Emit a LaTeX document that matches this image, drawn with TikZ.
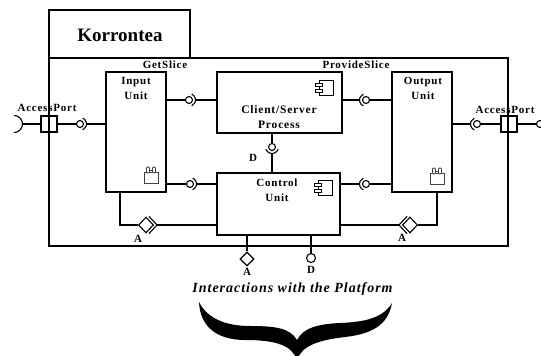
\documentclass[tikz,border=0pt]{standalone}
\usepackage{fontspec}
\setmainfont{Liberation Serif}
\newfontfamily\lsfont[LetterSpace=7]{Liberation Serif}
\usetikzlibrary{shapes.geometric}
\begin{document}
\begin{tikzpicture}[x=1pt,y=-1pt,
  box/.style={draw, line width=1.3pt, rectangle, inner sep=0pt},
  wire/.style={line width=1.1pt},
  lbl/.style={font=\lsfont\bfseries\fontsize{11}{15}\selectfont, inner sep=0pt, align=center},
  ball/.style={draw, circle, line width=1.1pt, minimum size=7pt, inner sep=0pt},
  port/.style={draw, rectangle, line width=1.1pt, minimum size=16pt, inner sep=0pt},
  dia/.style={draw, diamond, line width=1.1pt, minimum width=15pt, minimum height=16pt, inner sep=0pt, fill=white},
  sock/.style={line width=1.1pt},
  comp/.pic={
    \draw[line width=0.9pt, fill=white] (0,-7.5) rectangle (14,7.5);
    \draw[line width=0.9pt, fill=white] (-4,-4.8) rectangle (3,-1.5);
    \draw[line width=0.9pt, fill=white] (-4,1.5) rectangle (3,4.8);
  },
  res/.pic={
    \draw[line width=0.8pt, draw=black!75] (-7,-2.5) rectangle (7,8);
    \draw[line width=0.8pt, draw=black!75, fill=white, rounded corners=1pt] (-4.5,-8) rectangle (-1.5,-2);
    \draw[line width=0.8pt, draw=black!75, fill=white, rounded corners=1pt] (1.5,-8) rectangle (4.5,-2);
    \draw[line width=0.8pt, draw=black!75] (-1.5,-5) -- (1.5,-5);
  }
]
\useasboundingbox (0,0) rectangle (541,356);

% containers
\node[box, minimum width=459pt, minimum height=188pt] (sys) at (278.5,152) {};
\node[box, minimum width=141pt, minimum height=48pt] (tab) at (119.5,34) {};
\node[font=\bfseries\fontsize{19}{19}\selectfont, inner sep=0pt] (title) at (120,35) {Korrontea};

% parts
\node[box, minimum width=60pt, minimum height=120pt] (in) at (136,132) {};
\node[box, minimum width=60pt, minimum height=120pt] (out) at (422,132) {};
\node[box, minimum width=125pt, minimum height=61pt] (cs) at (279.5,102.5) {};
\node[box, minimum width=123pt, minimum height=62pt] (ctrl) at (278.5,204) {};

\node[lbl] (intxt) at (136,88.5) {Input\\Unit};
\node[lbl] (outtxt) at (423,88.5) {Output\\Unit};
\node[lbl, font=\lsfont\bfseries\fontsize{11.5}{15}\selectfont] (cstxt) at (279,117.5) {Client/Server\\Process};
\node[lbl] (ctrltxt) at (277,190.5) {Control\\Unit};
\node[lbl] (gets) at (165,65) {GetSlice};
\node[lbl] (provs) at (356,65) {ProvideSlice};
\node[lbl] (apl) at (47,108) {AccessPort};
\node[lbl] (apr) at (505,110) {AccessPort};

\pic at (319,88) {comp};
\pic at (318,188) {comp};
\pic at (151,175) {res};
\pic at (437,176) {res};

% ports
\node[port] (pl) at (49,124) {};
\node[port] (pr) at (509,124) {};
\coordinate (sl) at (14,124);
\draw[sock] (sl) ++(0,-8.5) arc[start angle=-90, end angle=90, radius=8.5];
\draw[wire] ([xshift=8.5pt]sl) -- (pl.west);
\node[ball] (lr) at (540,124) {};
\draw[wire] (pr.east) -- (lr.west);

% assembly connectors (socket on right)
\node[ball] (b1) at (80,124) {};
\node[ball] (b2) at (189,100) {};
\node[ball] (b3) at (190,184) {};
\foreach \b in {b1,b2,b3}{
  \draw[sock] (\b.center) ++(-65:6.5) arc[start angle=-65, end angle=65, radius=6.5];
}
\draw[wire] (pl.east) -- (b1.west);
\draw[wire] ([xshift=6.5pt]b1.center) -- (in.west |- b1);
\draw[wire] (in.east |- b2) -- (b2.west);
\draw[wire] ([xshift=6.5pt]b2.center) -- (cs.west |- b2);
\draw[wire] (in.east |- b3) -- (b3.west);
\draw[wire] ([xshift=6.5pt]b3.center) -- (ctrl.west |- b3);

% assembly connectors (socket on left)
\node[ball] (b4) at (366,100) {};
\node[ball] (b5) at (366,184) {};
\node[ball] (b6) at (477,124) {};
\foreach \b in {b4,b5,b6}{
  \draw[sock] (\b.center) ++(115:6.5) arc[start angle=115, end angle=245, radius=6.5];
}
\draw[wire] (cs.east |- b4) -- ([xshift=-6.5pt]b4.center);
\draw[wire] (b4.east) -- (out.west |- b4);
\draw[wire] (ctrl.east |- b5) -- ([xshift=-6.5pt]b5.center);
\draw[wire] (b5.east) -- (out.west |- b5);
\draw[wire] (out.east |- b6) -- ([xshift=-6.5pt]b6.center);
\draw[wire] (b6.east) -- (pr.west);

% D connector between Client/Server and Control
\node[ball] (bd) at (272,147) {};
\draw[sock] (bd.center) ++(20:6.5) arc[start angle=20, end angle=160, radius=6.5];
\draw[wire] (cs.south -| bd) -- (bd.north);
\draw[wire] ([yshift=-6.5pt]bd.center) -- (ctrl.north -| bd);
\node[lbl] (dlab) at (253,158) {D};

% A connectors inside
\node[dia] (dl) at (146,225) {};
\draw[wire] ([xshift=3pt]dl.north) -- ([xshift=3pt]dl.east) -- ([xshift=3pt]dl.south);
\draw[wire] ([xshift=-16pt]in.south) |- (dl.west);
\draw[wire] ([xshift=3pt]dl.east) -- (ctrl.west |- dl.east);
\node[lbl] (al) at (138,239) {A};

\node[dia] (dr) at (410,225) {};
\draw[wire] ([xshift=-3pt]dr.north) -- ([xshift=-3pt]dr.west) -- ([xshift=-3pt]dr.south);
\draw[wire] ([xshift=15pt]out.south) |- (dr.east);
\draw[wire] ([xshift=-3pt]dr.west) -- (ctrl.east |- dr.west);
\node[lbl] (ar) at (402,238) {A};

% external interfaces
\node[dia, minimum width=14pt, minimum height=14pt] (da) at (247,259) {};
\draw[wire] (ctrl.south -| da) -- (da.north);
\node[lbl] (ab) at (247,272) {A};
\node[ball, minimum size=9pt] (dd) at (311,258) {};
\draw[wire] (ctrl.south -| dd) -- (dd.north);
\node[lbl] (db) at (311,270) {D};

\node[font=\lsfont\bfseries\itshape\fontsize{14}{14}\selectfont, inner sep=0pt] (inter) at (292.5,289) {Interactions with the Platform};

% brace
\fill (199,302) .. controls (200,325) and (215,340) .. (245,340)
  .. controls (275,340) and (292,345) .. (297,360)
  .. controls (302,345) and (320,340) .. (345,337)
  .. controls (372,334) and (388,325) .. (392,303)
  .. controls (383,318) and (365,322) .. (340,323)
  .. controls (318,324) and (303,328) .. (297,340)
  .. controls (290,328) and (275,326) .. (250,326)
  .. controls (225,326) and (207,318) .. (199,302) -- cycle;
\end{tikzpicture}
\end{document}
